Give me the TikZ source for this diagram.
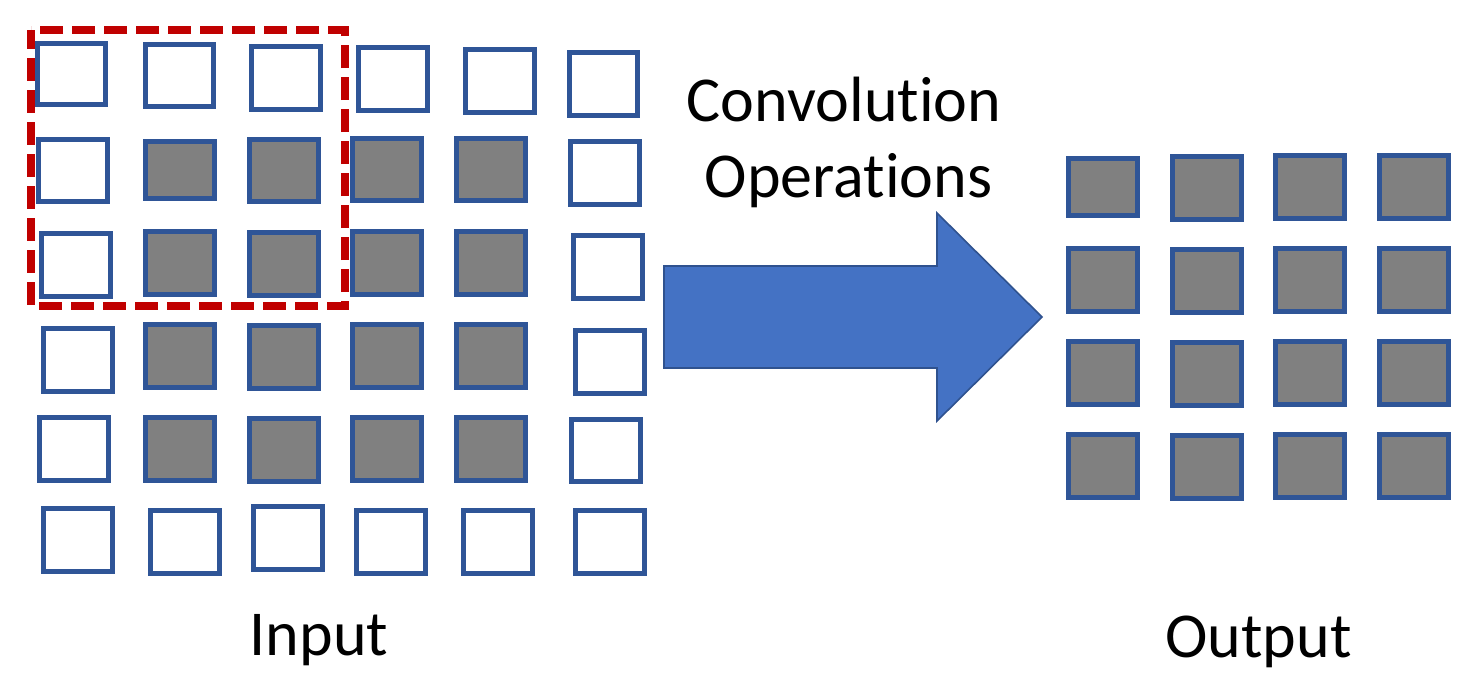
\documentclass[tikz,border=0pt]{standalone}
\usepackage{fontspec}
\setmainfont[Ligatures={NoCommon}]{Carlito}
\definecolor{cellblue}{HTML}{2F5597}
\definecolor{cellgray}{HTML}{808080}
\definecolor{kred}{HTML}{C00000}
\definecolor{arrowfill}{HTML}{4472C4}
\definecolor{arrowline}{HTML}{2F528F}
\newcommand\wsq[4]{\draw[wcell] (#1+2.4,#2+2.4) rectangle (#3-2.4,#4-2.4);}
\newcommand\gsq[4]{\draw[gcell] (#1+2.4,#2+2.4) rectangle (#3-2.4,#4-2.4);}
\begin{document}
\begin{tikzpicture}[x=0.5pt,y=-0.5pt,
  wcell/.style={draw=cellblue,line width=2.4pt,fill=white},
  gcell/.style={draw=cellblue,line width=2.4pt,fill=cellgray},
  lbl/.style={font=\fontsize{32}{38}\selectfont,anchor=base,inner sep=0pt}]
\useasboundingbox (0,0) rectangle (1479,697);
% Input grid row 1
\wsq{35}{41}{108}{107}
\wsq{143}{42}{216}{109}
\wsq{249}{44}{323}{112}
\wsq{356}{45}{430}{113}
\wsq{463}{47}{537}{115}
\wsq{567}{50}{640}{118}
% row 2
\wsq{36}{137}{110}{204}
\gsq{143}{139}{217}{201}
\gsq{247}{137}{321}{204}
\gsq{350}{136}{424}{203}
\gsq{454}{136}{528}{203}
\wsq{568}{139}{642}{207}
% row 3
\wsq{39}{231}{113}{299}
\gsq{143}{229}{217}{297}
\gsq{247}{230}{321}{298}
\gsq{350}{229}{424}{297}
\gsq{454}{229}{528}{297}
\wsq{571}{233}{645}{301}
% row 4
\wsq{41}{326}{115}{394}
\gsq{143}{322}{217}{390}
\gsq{247}{323}{321}{391}
\gsq{350}{322}{424}{390}
\gsq{454}{322}{528}{390}
\wsq{573}{328}{647}{396}
% row 5
\wsq{37}{415}{111}{483}
\gsq{143}{415}{217}{483}
\gsq{247}{416}{321}{484}
\gsq{350}{415}{424}{483}
\gsq{454}{415}{528}{483}
\wsq{569}{417}{643}{484}
% row 6
\wsq{41}{506}{115}{574}
\wsq{148}{508}{222}{576}
\wsq{251}{504}{325}{572}
\wsq{354}{508}{428}{576}
\wsq{461}{508}{535}{576}
\wsq{573}{508}{647}{576}
% kernel window
\draw[kred,line width=3.6pt,dash pattern=on 11.5pt off 4.5pt,dash phase=2pt] (31,30) rectangle (345,306);
% arrow
\draw[fill=arrowfill,draw=arrowline,line width=0.8pt,line join=miter]
  (664,266) -- (937,266) -- (937,213) -- (1042,317) -- (937,421) -- (937,368) -- (664,368) -- cycle;
% Output grid
\gsq{1066}{156}{1140}{218}
\gsq{1170}{154}{1244}{222}
\gsq{1273}{153}{1347}{221}
\gsq{1377}{153}{1451}{221}
\gsq{1066}{246}{1140}{314}
\gsq{1170}{247}{1244}{315}
\gsq{1273}{246}{1347}{314}
\gsq{1377}{246}{1451}{314}
\gsq{1066}{339}{1140}{407}
\gsq{1170}{340}{1244}{408}
\gsq{1273}{339}{1347}{407}
\gsq{1377}{339}{1451}{407}
\gsq{1066}{432}{1140}{500}
\gsq{1170}{433}{1244}{501}
\gsq{1273}{432}{1347}{500}
\gsq{1377}{432}{1451}{500}
% labels
\node[lbl] (conv) at (844,121) {Convolution};
\node[lbl] (ops) at (848.5,197) {Operations};
\node[lbl] (inp) at (319,655) {Input};
\node[lbl] (outp) at (1258.5,657) {Output};
\end{tikzpicture}
\end{document}
